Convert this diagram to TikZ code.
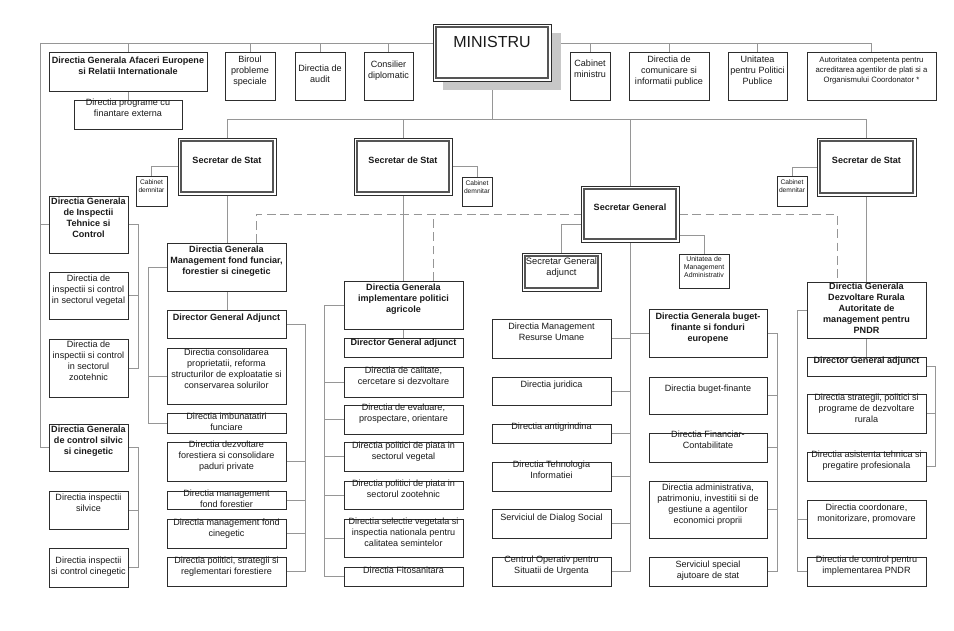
\documentclass[tikz,border=0pt]{standalone}
\usepackage{fontspec}
\setmainfont{Liberation Sans}
\usetikzlibrary{calc}
\pgfdeclarelayer{bg}
\pgfsetlayers{bg,main}
\definecolor{ln}{RGB}{150,150,150}
\definecolor{bd}{RGB}{45,45,45}
\definecolor{ibd}{RGB}{85,85,85}
\definecolor{tc}{RGB}{25,25,25}
\definecolor{shd}{RGB}{200,200,200}
\tikzset{
 bx/.style={draw=bd,line width=0.7pt,fill=white,inner sep=0pt,outer sep=0pt},
 obx/.style={draw=bd,line width=0.6pt,fill=white,inner sep=0pt,outer sep=0pt},
 ibx/.style={draw=ibd,line width=1.3pt,inner sep=0pt,outer sep=0pt},
 tx/.style={text=tc,align=center,inner sep=0pt,font=\fontsize{6.8}{8.1}\selectfont},
 tb/.style={tx,font=\fontsize{6.8}{8.1}\selectfont\bfseries},
 ts/.style={tx,font=\fontsize{5.8}{7.5}\selectfont},
 tt/.style={tx,font=\fontsize{5}{6}\selectfont},
 tu/.style={tx,font=\fontsize{5.2}{6.2}\selectfont},
 tm/.style={tx,font=\fontsize{7}{8.4}\selectfont},
 conn/.style={draw=ln,line width=0.6pt},
 dsh/.style={draw=ln,line width=0.6pt,dash pattern=on 6.5pt off 3.5pt},
}
\newcommand{\OBox}[8][tx]{%
 \node[bx,minimum width={(#5-#3)*0.75pt},minimum height={(#6-#4)*0.75pt},anchor=north west] (#2) at (#3,#4) {};
 \node[#1,anchor=north] (#2t) at ($(#2.north)+(0,#7)$) {#8};}
\newcommand{\DBox}[8][tb]{%
 \node[obx,minimum width={(#5-#3)*0.75pt},minimum height={(#6-#4)*0.75pt},anchor=north west] (#2) at (#3,#4) {};
 \node[ibx,minimum width={(#5-#3-5.5)*0.75pt},minimum height={(#6-#4-5.5)*0.75pt}] (#2i) at (#2.center) {};
 \node[#1,anchor=north] (#2t) at ($(#2.north)+(0,#7)$) {#8};}
\begin{document}
\begin{tikzpicture}[x=0.75pt,y=-0.75pt]
\useasboundingbox (0,0) rectangle (954,631);
% top row
\OBox[tb]{dgae}{49}{52}{207}{91}{5}{Directia Generala Afaceri Europene\\si Relatii Internationale}
\OBox{dpce}{74}{100}{182}{129}{-1}{Directia programe cu\\finantare externa}
\OBox{bps}{225}{52}{275}{100}{4}{Biroul\\probleme\\speciale}
\OBox{daud}{295}{52}{345}{100}{13}{Directia de\\audit}
\OBox{cdip}{364}{52}{413}{100}{9}{Consilier\\diplomatic}
\node[fill=shd,inner sep=0pt,minimum width={118*0.75pt},minimum height={57*0.75pt},anchor=north west] (minsh) at (443,33) {};
\node[obx,minimum width={118*0.75pt},minimum height={57*0.75pt},anchor=north west] (min) at (433,24) {};
\node[ibx,minimum width={112.5*0.75pt},minimum height={51.5*0.75pt}] (mini) at (min.center) {};
\node[text=tc,inner sep=0pt,font=\fontsize{12}{14}\selectfont] (mint) at (492,42) {MINISTRU};
\OBox{cmin}{570}{52}{610}{100}{8}{Cabinet\\ministru}
\OBox{dcip}{629}{52}{709}{100}{4}{Directia de\\comunicare si\\informatii publice}
\OBox{upp}{728}{52}{787}{100}{4}{Unitatea\\pentru Politici\\Publice}
\OBox[ts]{aut}{807}{52}{936}{100}{5}{Autoritatea competenta pentru\\acreditarea agentilor de plati si a\\Organismului Coordonator *}
% secretaries
\DBox{ss1}{178}{138}{276}{195}{19}{Secretar de Stat}
\DBox{ss2}{354}{138}{452}{195}{19}{Secretar de Stat}
\DBox{ss3}{817}{138}{916}{196}{19}{Secretar de Stat}
\DBox{sg}{581}{186}{679}{242}{18}{Secretar General}
\DBox[tm]{sga}{522}{253}{601}{291}{4}{Secretar General\\adjunct}
\OBox[tt]{cd1}{136}{176}{167}{206}{3}{Cabinet\\demnitar}
\OBox[tt]{cd2}{462}{177}{492}{206}{3}{Cabinet\\demnitar}
\OBox[tt]{cd3}{777}{176}{807}{206}{3}{Cabinet\\demnitar}
\OBox[tu]{uma}{679}{254}{729}{288}{2}{Unitatea de\\Management\\Administrativ}
% left column
\OBox[tb]{dgit}{49}{196}{128}{253}{2}{Directia Generala\\de Inspectii\\Tehnice si\\Control}
\OBox{dveg}{49}{272}{128}{319}{3}{Directia de\\inspectii si control\\in sectorul vegetal}
\OBox{dzt}{49}{339}{128}{397}{2}{Directia de\\inspectii si control\\in sectorul\\zootehnic}
\OBox[tb]{dgcs}{49}{424}{128}{471}{2}{Directia Generala\\de control silvic\\si cinegetic}
\OBox{dis}{49}{491}{128}{529}{3}{Directia inspectii\\silvice}
\OBox{dic}{49}{548}{128}{587}{9}{Directia inspectii\\si control cinegetic}
% SS1 column
\OBox[tb]{dgmf}{167}{243}{286}{291}{3}{Directia Generala\\Management fond funciar,\\forestier si cinegetic}
\OBox[tb]{dgaj1}{167}{310}{286}{338}{4}{Director General Adjunct}
\OBox{dcons}{167}{348}{286}{404}{1}{Directia consolidarea\\proprietatii, reforma\\structurilor de exploatatie si\\conservarea solurilor}
\OBox{dimb}{167}{413}{286}{433}{0}{Directia imbunatatiri\\funciare}
\OBox{ddf}{167}{442}{286}{481}{-1}{Directia dezvoltare\\forestiera si consolidare\\paduri private}
\OBox{dmff}{167}{491}{286}{509}{-1}{Directia management\\fond forestier}
\OBox{dmfc}{167}{519}{286}{548}{0}{Directia management fond\\cinegetic}
\OBox{dpsr}{167}{557}{286}{586}{0}{Directia politici, strategii si\\reglementari forestiere}
% SS2 column
\OBox[tb]{dgip}{344}{281}{463}{329}{3}{Directia Generala\\implementare politici\\agricole}
\OBox[tb]{dga2}{344}{338}{463}{357}{1}{Director General adjunct}
\OBox{dcal}{344}{367}{463}{397}{0}{Directia de calitate,\\cercetare si dezvoltare}
\OBox{deval}{344}{405}{463}{434}{-1}{Directia de evaluare,\\prospectare, orientare}
\OBox{dpv}{344}{442}{463}{471}{0}{Directia politici de piata in\\sectorul vegetal}
\OBox{dpz}{344}{481}{463}{509}{-1}{Directia politici de piata in\\sectorul zootehnic}
\OBox{dsel}{344}{519}{463}{557}{-1}{Directia selectie vegetala si\\inspectia nationala pentru\\calitatea semintelor}
\OBox{dfit}{344}{567}{463}{586}{0}{Directia Fitosanitara}
% SG column
\OBox{drh}{492}{319}{611}{358}{4}{Directia Management\\Resurse Umane}
\OBox{djur}{492}{377}{611}{405}{4}{Directia juridica}
\OBox{dant}{492}{424}{611}{443}{-1}{Directia antigrindina}
\OBox{dti}{492}{462}{611}{491}{-1}{Directia Tehnologia\\Informatiei}
\OBox{dds}{492}{509}{611}{538}{5}{Serviciul de Dialog Social}
\OBox{dcou}{492}{557}{611}{586}{-1}{Centrul Operativ pentru\\Situatii de Urgenta}
% buget column
\OBox[tb]{dgbf}{649}{309}{767}{357}{4}{Directia Generala buget-\\finante si fonduri\\europene}
\OBox{dbf}{649}{377}{767}{414}{8}{Directia buget-finante}
\OBox{dfc}{649}{433}{767}{462}{-2}{Directia Financiar-\\Contabilitate}
\OBox{dadm}{649}{481}{767}{538}{3}{Directia administrativa,\\patrimoniu, investitii si de\\gestiune a agentilor\\economici proprii}
\OBox{dss}{649}{557}{767}{586}{4}{Serviciul special\\ajutoare de stat}
% DR column
\OBox[tb]{dgdr}{807}{282}{926}{338}{1}{Directia Generala\\Dezvoltare Rurala\\Autoritate de\\management pentru\\PNDR}
\OBox[tb]{dga3}{807}{357}{926}{376}{0}{Director General adjunct}
\OBox{dstrat}{807}{394}{926}{433}{0}{Directia strategii, politici si\\programe de dezvoltare\\rurala}
\OBox{dasist}{807}{452}{926}{481}{-1}{Directia asistenta tehnica si\\pregatire profesionala}
\OBox{dcmp}{807}{500}{926}{538}{4}{Directia coordonare,\\monitorizare, promovare}
\OBox{dcpndr}{807}{557}{926}{586}{-1}{Directia de control pentru\\implementarea PNDR}
% connectors
\begin{pgfonlayer}{bg}
\coordinate (topL) at (40,43);
\coordinate (lv2) at (492,119);
\draw[conn] (topL) -- (aut.north |- topL) -- (aut.north);
\foreach \n in {dgae,bps,daud,cdip,cmin,dcip,upp}{\draw[conn] (\n.north) -- (\n.north |- topL);}
\draw[conn] (topL) |- (dgit.west);
\draw[conn] (topL) |- (dgcs.west);
\draw[conn] (dgae.south) -- (dpce.north);
\draw[conn] (min.south) -- (lv2);
\draw[conn] (ss1.north) -- (ss1.north |- lv2) -- (ss3.north |- lv2) -- (ss3.north);
\draw[conn] (ss2.north) -- (ss2.north |- lv2);
\draw[conn] (sg.north) -- (sg.north |- lv2);
\draw[conn] (ss1.west) -| (cd1.north);
\draw[conn] (ss2.east) -| (cd2.north);
\draw[conn] (ss3.west) -| (cd3.north);
\draw[conn] (ss1.south) -- (ss1.south |- dgaj1.north);
\draw[conn] (ss2.south) -- (ss2.south |- dga2.north);
\draw[conn] (ss3.south) -- (ss3.south |- dga3.north);
\draw[conn] (sg.south) -- (sg.south |- dcou.east);
\foreach \n in {drh,djur,dant,dti,dds,dcou}{\draw[conn] (\n.east) -- (\n.east -| sg.south);}
\draw[conn] (dgbf.west) -- (dgbf.west -| sg.south);
\draw[conn] ($(sg.west)+(0,10)$) -| (sga.north);
\draw[conn] ($(sg.east)+(0,21)$) -| (uma.north);
\coordinate (d1) at ($(dgmf.north east)+(-30,0)$);
\coordinate (d2) at ($(dgip.north east)+(-30,0)$);
\coordinate (d3) at ($(dgdr.north west)+(30,0)$);
\draw[dsh] (d1) |- (sg.west);
\draw[dsh] (d2) -- (d2 |- sg.west);
\draw[dsh] (sg.east) -| (d3);
\coordinate (b1) at ($(dgit.east)+(10,0)$);
\draw[conn] (dgit.east) -- (b1) |- (dzt.east);
\draw[conn] (dveg.east) -- (dveg.east -| b1);
\coordinate (b2) at ($(dgcs.east)+(10,0)$);
\draw[conn] (dgcs.east) -- (b2) |- (dic.east);
\draw[conn] (dis.east) -- (dis.east -| b2);
\coordinate (b3) at ($(dgmf.west)+(-19,0)$);
\draw[conn] (dgmf.west) -- (b3) |- (dimb.west);
\draw[conn] (dcons.west) -- (dcons.west -| b3);
\coordinate (b4) at ($(dgaj1.east)+(19,0)$);
\draw[conn] (dgaj1.east) -- (b4) |- (dpsr.east);
\foreach \n in {ddf,dmff,dmfc}{\draw[conn] (\n.east) -- (\n.east -| b4);}
\coordinate (b5) at ($(dgip.west)+(-20,0)$);
\draw[conn] (dgip.west) -- (b5) |- (dfit.west);
\foreach \n in {dcal,deval,dpv,dpz,dsel}{\draw[conn] (\n.west) -- (\n.west -| b5);}
\coordinate (b6) at ($(dgbf.east)+(10,0)$);
\draw[conn] (dgbf.east) -- (b6) |- (dss.east);
\foreach \n in {dbf,dfc,dadm}{\draw[conn] (\n.east) -- (\n.east -| b6);}
\coordinate (b7) at ($(dgdr.west)+(-10,0)$);
\draw[conn] (dgdr.west) -- (b7) |- (dcpndr.west);
\draw[conn] (dcmp.west) -- (dcmp.west -| b7);
\coordinate (b8) at ($(dga3.east)+(9,0)$);
\draw[conn] (dga3.east) -- (b8) |- (dasist.east);
\draw[conn] (dstrat.east) -- (dstrat.east -| b8);
\end{pgfonlayer}
\end{tikzpicture}
\end{document}
